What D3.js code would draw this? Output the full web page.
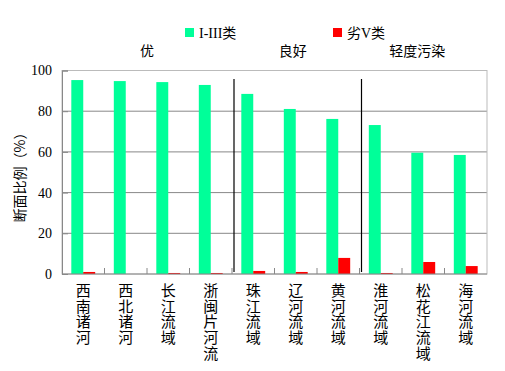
<!DOCTYPE html>
<html>
<head>
<meta charset="utf-8">
<script src="https://cdn.jsdelivr.net/npm/d3@7"></script>
<style>
body { margin: 0; background: #fff; }
svg { display: block; }
.vlabel { writing-mode: vertical-rl; text-orientation: upright; }
</style>
</head>
<body>
<svg id="chart" width="505" height="371"></svg>
<script>
"use strict";
var basins = ['西南诸河', '西北诸河', '长江流域', '浙闽片河流', '珠江流域', '辽河流域', '黄河流域', '淮河流域', '松花江流域', '海河流域'];
var goodShare = [95.3, 94.8, 94.3, 92.9, 88.5, 81.1, 76.2, 73.2, 59.6, 58.5];
var worstShare = [1.0, 0, 0.5, 0.5, 1.5, 1.0, 7.9, 0.5, 5.9, 3.9];
var yTicks = [0, 20, 40, 60, 80, 100];
var seriesNames = ['I-III类', '劣V类'];
var groupNames = ['优', '良好', '轻度污染'];
var groupStarts = [0, 4, 7];
var groupEnds = [4, 7, 10];

var colors = ['#00ff99', '#ff0000'];
var cjk = '"Noto Sans CJK SC", sans-serif';
var serif = '"Liberation Serif", "Noto Sans CJK SC", serif';

var svg = d3.select('#chart');
var plotL = 62, plotR = 487, plotT = 70.5, plotB = 274;

var x = d3.scaleBand().domain(d3.range(basins.length)).range([plotL, plotR]);
var inner = d3.scaleBand().domain([0, 1]).range([0, x.bandwidth()]).paddingOuter(0.78).paddingInner(0);
var y = d3.scaleLinear().domain([0, 100]).range([plotB, plotT]);

// grid lines
svg.append('g').selectAll('line').data(yTicks.slice(1, -1)).enter().append('line')
    .attr('x1', plotL).attr('x2', plotR)
    .attr('y1', function (d) { return y(d); }).attr('y2', function (d) { return y(d); })
    .attr('stroke', '#888').attr('stroke-width', 1);

// plot border
svg.append('rect')
    .attr('x', plotL).attr('y', plotT).attr('width', plotR - plotL).attr('height', plotB - plotT)
    .attr('fill', 'none').attr('stroke', '#bbb').attr('stroke-width', 1);

// bars
var rows = basins.map(function (b, i) { return [goodShare[i], worstShare[i]]; });
var cat = svg.append('g').selectAll('g').data(rows).enter().append('g')
    .attr('transform', function (d, i) { return 'translate(' + x(i) + ',0)'; });
cat.selectAll('rect').data(function (d) { return d; }).enter().append('rect')
    .attr('x', function (d, j) { return inner(j); })
    .attr('width', inner.bandwidth())
    .attr('y', function (d) { return y(d); })
    .attr('height', function (d) { return y(0) - y(d); })
    .attr('fill', function (d, j) { return colors[j]; });

// y axis
var yAxis = svg.append('g')
    .attr('transform', 'translate(' + plotL + ',0)')
    .call(d3.axisLeft(y).tickValues(yTicks).tickSize(-6).tickPadding(10));
yAxis.select('.domain').attr('stroke', '#888');
yAxis.selectAll('.tick line').attr('stroke', '#888');
yAxis.selectAll('text').attr('font-family', serif).attr('font-size', 14).attr('fill', '#000');

// x axis ticks at category boundaries
var xAxis = svg.append('g');
xAxis.append('line').attr('x1', plotL).attr('x2', plotR).attr('y1', plotB).attr('y2', plotB)
    .attr('stroke', '#888');
xAxis.selectAll('line.tk').data(d3.range(1, basins.length)).enter().append('line')
    .attr('class', 'tk')
    .attr('x1', function (i) { return x(i); }).attr('x2', function (i) { return x(i); })
    .attr('y1', plotB).attr('y2', plotB - 6)
    .attr('stroke', '#888');

// vertical category labels, one character per row
svg.append('g').selectAll('text').data(basins).enter().append('text')
    .attr('class', 'vlabel')
    .attr('x', function (d, i) { return x(i) + x.bandwidth() / 2; })
    .attr('y', 283)
    .attr('font-family', cjk).attr('font-size', 15).attr('fill', '#000')
    .style('letter-spacing', '0.6px')
    .text(function (d) { return d; });

// group separators
svg.append('g').selectAll('line').data(groupStarts.slice(1)).enter().append('line')
    .attr('x1', function (i) { return x(i) + 2; }).attr('x2', function (i) { return x(i) + 2; })
    .attr('y1', 79).attr('y2', 272)
    .attr('stroke', '#000').attr('stroke-width', 1.2);

// group names
svg.append('g').selectAll('text').data(groupNames).enter().append('text')
    .attr('x', function (d, g) { return (x(groupStarts[g]) + x(groupEnds[g] - 1) + x.bandwidth()) / 2 + [0, -3, -6][g]; })
    .attr('y', 56)
    .attr('text-anchor', 'middle')
    .attr('font-family', cjk).attr('font-size', 14).attr('fill', '#000')
    .text(function (d) { return d; });

// legend
var legendX = [185, 333];
var leg = svg.append('g').selectAll('g').data(seriesNames).enter().append('g')
    .attr('transform', function (d, i) { return 'translate(' + legendX[i] + ',28)'; });
leg.append('rect').attr('width', 9).attr('height', 9)
    .attr('fill', function (d, i) { return colors[i]; });
leg.append('text').attr('x', 14).attr('y', 9.5)
    .attr('font-family', serif).attr('font-size', 14).attr('fill', '#000')
    .text(function (d) { return d; });

// y title
svg.append('text')
    .attr('transform', 'translate(25,174) rotate(-90)')
    .attr('text-anchor', 'middle')
    .attr('font-family', cjk).attr('font-size', 14).attr('fill', '#000')
    .text('断面比例（%）');
</script>
</body>
</html>
